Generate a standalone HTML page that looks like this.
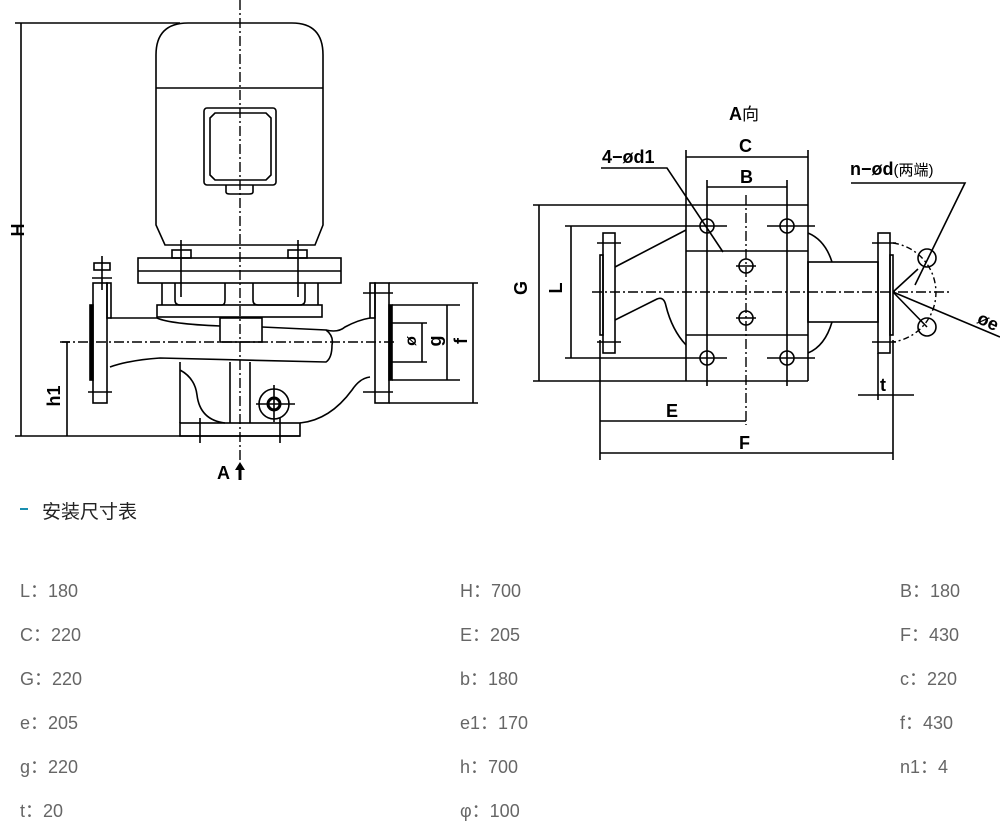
<!DOCTYPE html>
<html><head><meta charset="utf-8"><style>
body{margin:0;background:#fff;width:1000px;height:831px;overflow:hidden;position:relative;font-family:"Liberation Sans","Noto Sans CJK SC",sans-serif}
svg{position:absolute;left:0;top:0}
.t{position:absolute;font-size:18px;color:#666;line-height:20px;font-family:"Liberation Sans","Noto Sans CJK SC",sans-serif}
</style></head><body>
<svg width="1000" height="490" viewBox="0 0 1000 490">
<g fill="none" stroke="#000" stroke-width="1.6">
<line x1="15" y1="23" x2="180" y2="23"/><line x1="15" y1="436" x2="300" y2="436"/>
<line x1="21" y1="23" x2="21" y2="436"/>
<path d="M156,225 V55 Q156,23 188,23 H292 Q323,23 323,55 V225 L315,245 H165 Z"/>
<line x1="156" y1="88" x2="323" y2="88"/>
<rect x="204" y="108" width="72" height="77" rx="3"/>
<path d="M215,113 H266 L271,118 V175 L266,180 H215 L210,175 V118 Z"/>
<path d="M226,185 V192 Q226,194 230,194 H249 Q253,194 253,192 V185"/>
<rect x="172" y="250" width="19" height="8"/><rect x="288" y="250" width="19" height="8"/>
<line x1="181" y1="240" x2="181" y2="297"/><line x1="298" y1="240" x2="298" y2="297"/>
<rect x="138" y="258" width="203" height="25"/><line x1="138" y1="271" x2="341" y2="271"/>
<path d="M162,283 V305 M175,283 V300 Q175,305 180,305 H222 Q225,305 225,300 V283 M253,283 V300 Q253,305 258,305 H300 Q305,305 305,300 V283 M318,283 V305"/>
<rect x="157" y="305" width="165" height="12"/>
<path d="M110,318 H157 Q170,324 220,326 M262,327 L326,330 Q334,336 332,345 Q332,358 326,362 L160,358 Q130,360 110,367"/>
<rect x="220" y="318" width="42" height="24"/>
<path d="M326,330 Q338,333 345,327 Q358,320 370,318"/>
<path d="M180,362 V423 M180,370 Q195,378 197,395 Q200,420 225,423 M300,423 Q330,420 352,390 Q360,378 370,377"/>
<line x1="230" y1="362" x2="230" y2="423"/><line x1="250" y1="362" x2="250" y2="423"/>
<rect x="180" y="423" width="120" height="13"/>
<line x1="200" y1="418" x2="200" y2="443"/><line x1="280" y1="418" x2="280" y2="443"/>
<circle cx="274" cy="404" r="15"/><circle cx="274" cy="404" r="6" stroke-width="3"/>
<line x1="256" y1="404" x2="295" y2="404"/><line x1="274" y1="385" x2="274" y2="422"/>
<rect x="93" y="283" width="14" height="120"/><rect x="107" y="283" width="4" height="35"/>
<rect x="90" y="305" width="3" height="75" fill="#000"/>
<line x1="88" y1="392" x2="112" y2="392"/>
<rect x="94" y="263" width="16" height="7"/><line x1="102" y1="256" x2="102" y2="290"/><line x1="92" y1="278" x2="112" y2="278"/>
<rect x="375" y="283" width="14" height="120"/><rect x="370" y="283" width="5" height="35"/>
<rect x="389" y="305" width="3" height="75" fill="#000"/>
<line x1="363" y1="293" x2="393" y2="293"/><line x1="363" y1="392" x2="393" y2="392"/>
<line x1="389" y1="283" x2="478" y2="283"/><line x1="389" y1="403" x2="478" y2="403"/>
<line x1="473" y1="283" x2="473" y2="403"/>
<line x1="392" y1="305" x2="460" y2="305"/><line x1="392" y1="380" x2="460" y2="380"/>
<line x1="447" y1="305" x2="447" y2="380"/>
<line x1="392" y1="323" x2="427" y2="323"/><line x1="392" y1="362" x2="427" y2="362"/>
<line x1="422" y1="323" x2="422" y2="362"/>
<line x1="67" y1="342" x2="67" y2="436"/><line x1="62" y1="342" x2="70" y2="342"/>
</g>
<g stroke="#000" stroke-width="1.4" stroke-dasharray="10,3,2,3" fill="none">
<line x1="240" y1="0" x2="240" y2="460"/>
<line x1="60" y1="342" x2="395" y2="342"/>
</g>
<g font-family="Liberation Sans,sans-serif" font-size="18" font-weight="bold" fill="#000">
<text x="16" y="238" transform="rotate(-90 16 230)" text-anchor="middle">H</text>
<text x="62" y="402" transform="rotate(-90 58 400)" text-anchor="middle">h1</text>
<text x="414" y="347" transform="rotate(-90 412 343)" text-anchor="middle" font-size="16">ø</text>
<text x="438" y="348" transform="rotate(-90 436 343)" text-anchor="middle">g</text>
<text x="464" y="348" transform="rotate(-90 462 343)" text-anchor="middle">f</text>
<text x="217" y="479">A</text>
</g>
<path d="M240,462 L235,470 H238.5 V480 H241.5 V470 H245 Z" fill="#000"/>

<g fill="none" stroke="#000" stroke-width="1.6">
<line x1="686" y1="150" x2="686" y2="381"/><line x1="808" y1="150" x2="808" y2="381"/>
<line x1="686" y1="157" x2="808" y2="157"/>
<line x1="707" y1="180" x2="707" y2="386"/><line x1="787" y1="180" x2="787" y2="386"/>
<line x1="707" y1="187" x2="787" y2="187"/>
<line x1="533" y1="205" x2="808" y2="205"/><line x1="533" y1="381" x2="808" y2="381"/>
<line x1="539" y1="205" x2="539" y2="381"/>
<line x1="565" y1="226" x2="727" y2="226"/><line x1="767" y1="226" x2="815" y2="226"/>
<line x1="565" y1="358" x2="727" y2="358"/><line x1="767" y1="358" x2="815" y2="358"/>
<line x1="571" y1="226" x2="571" y2="358"/>
<line x1="686" y1="251" x2="808" y2="251"/><line x1="686" y1="335" x2="808" y2="335"/>
<circle cx="707" cy="226" r="7"/><circle cx="787" cy="226" r="7"/>
<circle cx="707" cy="358" r="7"/><circle cx="787" cy="358" r="7"/>
<circle cx="746" cy="266" r="7"/><circle cx="746" cy="318" r="7"/>
<line x1="736" y1="266" x2="756" y2="266"/><line x1="736" y1="318" x2="756" y2="318"/>
<rect x="603" y="233" width="12" height="120"/><rect x="600" y="255" width="3" height="80"/>
<line x1="597" y1="243" x2="621" y2="243"/><line x1="597" y1="342" x2="621" y2="342"/>
<path d="M615,267 L686,230 M615,320 L657,299 Q664,296 666,306 Q672,330 686,345"/>
<rect x="808" y="262" width="70" height="60"/>
<path d="M808,233 Q825,240 832,262 M808,353 Q825,346 832,322"/>
<rect x="878" y="233" width="12" height="120"/><rect x="890" y="255" width="3" height="80"/>
<line x1="872" y1="243" x2="896" y2="243"/><line x1="872" y1="342" x2="896" y2="342"/>
<circle cx="927" cy="258" r="9"/><circle cx="927" cy="327" r="9"/>
<line x1="893" y1="292" x2="1000" y2="337"/>
<line x1="893" y1="292" x2="927" y2="327"/><line x1="893" y1="292" x2="918" y2="269"/>
<line x1="600" y1="340" x2="600" y2="460"/><line x1="893" y1="340" x2="893" y2="460"/>
<line x1="600" y1="421" x2="746" y2="421"/><line x1="600" y1="453" x2="893" y2="453"/>
<line x1="858" y1="395" x2="914" y2="395"/>
<line x1="878" y1="353" x2="878" y2="400"/>
<path d="M601,168 H667 L723,252"/>
<path d="M851,183 H965 L915,285"/>
</g>
<path d="M893,243 A50,50 0 0 1 893,342" fill="none" stroke="#000" stroke-width="1.4" stroke-dasharray="6,3,2,3"/>
<g stroke="#000" stroke-width="1.4" stroke-dasharray="10,3,2,3" fill="none">
<line x1="592" y1="292" x2="950" y2="292"/>
<line x1="746" y1="195" x2="746" y2="425"/>
</g>
<g font-family="Liberation Sans,'Noto Sans CJK SC',sans-serif" font-size="18" font-weight="bold" fill="#000">
<text x="729" y="120">A<tspan font-weight="normal" font-size="17">向</tspan></text>
<text x="739" y="152">C</text>
<text x="740" y="183">B</text>
<text x="602" y="163">4−ød1</text>
<text x="850" y="175">n−ød<tspan font-weight="normal" font-size="15">(两端)</tspan></text>
<text x="532" y="293" transform="rotate(-90 527 293)" text-anchor="middle">G</text>
<text x="567" y="293" transform="rotate(-90 562 293)" text-anchor="middle">L</text>
<text x="666" y="417">E</text>
<text x="739" y="449">F</text>
<text x="880" y="391">t</text>
<text x="978" y="326" transform="rotate(25 985 320)">øe</text>
</g>
</svg>
<div style="position:absolute;left:20px;top:508px;width:8px;height:2px;background:#1a8fb0"></div>
<div style="position:absolute;left:42px;top:497px;font-size:19px;color:#222;font-family:'Liberation Sans','Noto Sans CJK SC',sans-serif">安装尺寸表</div>
<div class="t" style="left:20px;top:581px">L：180</div><div class="t" style="left:460px;top:581px">H：700</div><div class="t" style="left:900px;top:581px">B：180</div>
<div class="t" style="left:20px;top:625px">C：220</div><div class="t" style="left:460px;top:625px">E：205</div><div class="t" style="left:900px;top:625px">F：430</div>
<div class="t" style="left:20px;top:669px">G：220</div><div class="t" style="left:460px;top:669px">b：180</div><div class="t" style="left:900px;top:669px">c：220</div>
<div class="t" style="left:20px;top:713px">e：205</div><div class="t" style="left:460px;top:713px">e1：170</div><div class="t" style="left:900px;top:713px">f：430</div>
<div class="t" style="left:20px;top:757px">g：220</div><div class="t" style="left:460px;top:757px">h：700</div><div class="t" style="left:900px;top:757px">n1：4</div>
<div class="t" style="left:20px;top:801px">t：20</div><div class="t" style="left:460px;top:801px">φ：100</div>
</body></html>
